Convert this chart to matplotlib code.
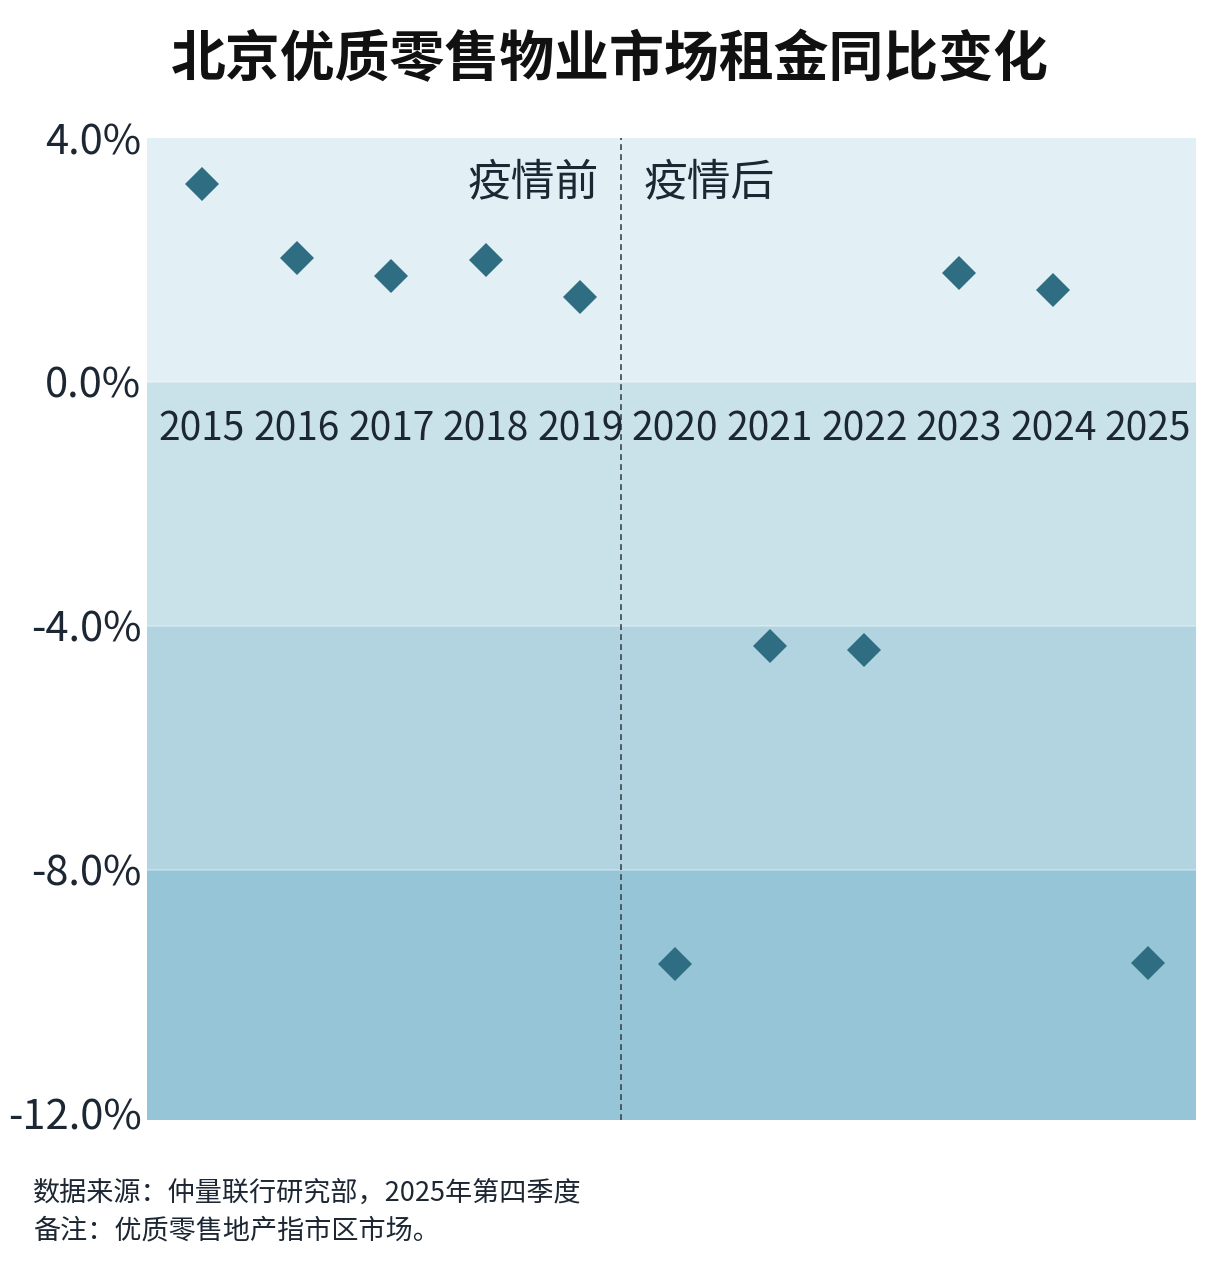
import matplotlib
matplotlib.use("Agg")
import matplotlib.pyplot as plt

plt.rcParams['font.family'] = ['Noto Sans CJK SC', 'DejaVu Sans']

years = ["2015", "2016", "2017", "2018", "2019", "2020", "2021", "2022", "2023", "2024", "2025"]
growth = [3.25, 2.03, 1.74, 2.00, 1.39, -9.54, -4.33, -4.39, 1.79, 1.51, -9.52]
yticks = [4.0, 0.0, -4.0, -8.0, -12.0]
bands = [(0, 4.0, "#e2eff4"), (-4.0, 0, "#c9e2ea"), (-8.0, -4.0, "#b1d4e0"), (-12.1, -8.0, "#95c5d6")]
title = "北京优质零售物业市场租金同比变化"
pre_label = "疫情前"
post_label = "疫情后"
source = "数据来源：仲量联行研究部，2025年第四季度"
note = "备注：优质零售地产指市区市场。"

text_color = "#1c2733"
marker_color = "#2f6d82"

fig = plt.figure(figsize=(12.22, 12.8), dpi=100)
ax = fig.add_axes([147/1222, 1-1120/1280, (1196-147)/1222, (1120-138)/1280])

for lo, hi, c in bands:
    ax.axhspan(lo, hi, color=c, lw=0, zorder=0)
for b in [0, -4, -8]:
    ax.axhline(b, color="white", lw=1.2, alpha=0.35, zorder=1)

x = list(range(len(years)))
ax.plot(x, growth, linestyle="none", marker="D", markersize=17, color=marker_color,
        markeredgewidth=0, zorder=3)

split = 4.43
ax.axvline(split, color="#3a4650", lw=1.2, linestyle=(0, (3.5, 2.5)), zorder=2)

for xi, lab in zip(x, years):
    ax.text(xi, -0.78, lab, ha="center", va="center", fontsize=28, color=text_color, zorder=4)

ax.text(split - 0.24, 3.27, pre_label, ha="right", va="center", fontsize=31.5, color=text_color)
ax.text(split + 0.24, 3.27, post_label, ha="left", va="center", fontsize=31.5, color=text_color)

ax.set_xlim(-0.581, 10.507)
ax.set_ylim(-12.1, 4.0)
ax.set_yticks(yticks)
ax.set_yticklabels([f"{v:.1f}%" for v in yticks])
ax.set_xticks([])
ax.tick_params(axis="y", length=0, pad=4, labelsize=30, labelcolor=text_color)
for s in ax.spines.values():
    s.set_visible(False)

fig.text(610/1222, 1-60/1280, title, ha="center", va="center", fontsize=39.5,
         fontweight="bold", color="#111111")
fig.text(33/1222, 1-1193/1280, source, ha="left", va="center", fontsize=19.5, color=text_color)
fig.text(33/1222, 1-1231/1280, note, ha="left", va="center", fontsize=19.5, color=text_color)

fig.savefig("out.png", dpi=100, facecolor="white")
